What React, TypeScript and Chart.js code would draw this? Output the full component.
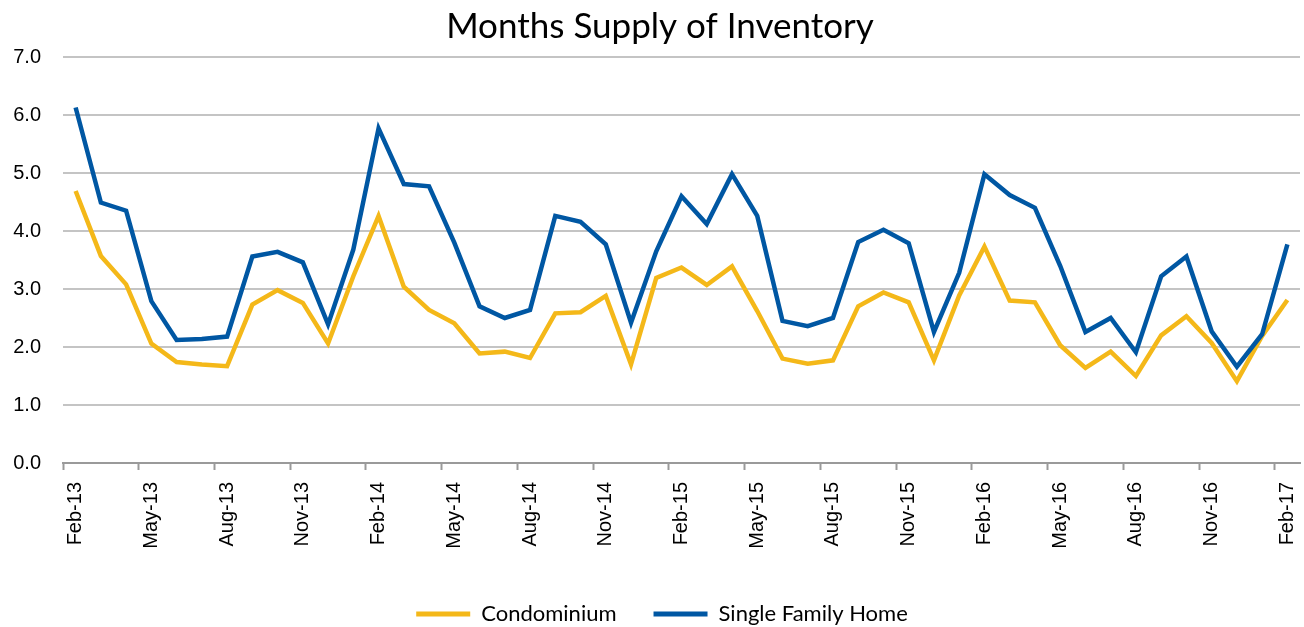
import React, { useEffect, useRef } from 'react';
import { Chart, registerables } from 'chart.js';

Chart.register(...registerables);

const months = [
  'Feb-13', 'Mar-13', 'Apr-13', 'May-13', 'Jun-13', 'Jul-13', 'Aug-13', 'Sep-13', 'Oct-13', 'Nov-13', 'Dec-13', 'Jan-14',
  'Feb-14', 'Mar-14', 'Apr-14', 'May-14', 'Jun-14', 'Jul-14', 'Aug-14', 'Sep-14', 'Oct-14', 'Nov-14', 'Dec-14', 'Jan-15',
  'Feb-15', 'Mar-15', 'Apr-15', 'May-15', 'Jun-15', 'Jul-15', 'Aug-15', 'Sep-15', 'Oct-15', 'Nov-15', 'Dec-15', 'Jan-16',
  'Feb-16', 'Mar-16', 'Apr-16', 'May-16', 'Jun-16', 'Jul-16', 'Aug-16', 'Sep-16', 'Oct-16', 'Nov-16', 'Dec-16', 'Jan-17',
  'Feb-17',
];

const condominium = [
  4.69, 3.57, 3.08, 2.06, 1.74, 1.70, 1.67, 2.73, 2.98, 2.76, 2.06, 3.22,
  4.26, 3.04, 2.64, 2.41, 1.89, 1.92, 1.81, 2.58, 2.60, 2.88, 1.70, 3.19,
  3.37, 3.07, 3.39, 2.62, 1.80, 1.71, 1.77, 2.70, 2.94, 2.77, 1.77, 2.89,
  3.73, 2.80, 2.77, 2.03, 1.64, 1.92, 1.50, 2.20, 2.53, 2.07, 1.41, 2.19,
  2.81,
];

const singleFamilyHome = [
  6.13, 4.49, 4.35, 2.79, 2.12, 2.14, 2.18, 3.56, 3.64, 3.46, 2.39, 3.68,
  5.77, 4.81, 4.77, 3.80, 2.70, 2.50, 2.64, 4.26, 4.16, 3.77, 2.42, 3.65,
  4.60, 4.12, 4.98, 4.26, 2.45, 2.36, 2.50, 3.81, 4.02, 3.79, 2.26, 3.28,
  4.98, 4.62, 4.40, 3.40, 2.26, 2.50, 1.91, 3.22, 3.56, 2.27, 1.66, 2.22,
  3.77,
];

const seriesNames = ['Condominium', 'Single Family Home'];
const seriesColors = ['#F4B819', '#0057A3'];
const chartTitle = 'Months Supply of Inventory';
const yMin = 0;
const yMax = 7;
const yStep = 1;
const labelEvery = 3;

const shiftBlocks = {
  id: 'shiftBlocks',
  afterLayout(chart: any) {
    const t = chart.titleBlock;
    if (t) {
      t.left += 10;
      t.right += 10;
    }
    const l = chart.legend;
    if (l) {
      l.left += 12;
      l.right += 12;
    }
  },
};

export default function App() {
  const ref = useRef<HTMLCanvasElement>(null);

  useEffect(() => {
    document.body.style.margin = '0';
    const canvas = ref.current;
    if (!canvas) return;
    const chart = new Chart(canvas, {
      type: 'line',
      data: {
        labels: months,
        datasets: [
          {
            label: seriesNames[0],
            data: condominium,
            borderColor: seriesColors[0],
            backgroundColor: seriesColors[0],
            borderWidth: 4.5,
            pointRadius: 0,
            tension: 0,
            order: 1,
          },
          {
            label: seriesNames[1],
            data: singleFamilyHome,
            borderColor: seriesColors[1],
            backgroundColor: seriesColors[1],
            borderWidth: 4.5,
            pointRadius: 0,
            tension: 0,
            order: 0,
          },
        ],
      },
      options: {
        responsive: false,
        animation: false,
        devicePixelRatio: 1,
        layout: { padding: { left: 0, right: 4, top: 0, bottom: 5 } },
        plugins: {
          title: {
            display: true,
            text: chartTitle,
            color: '#000',
            font: { family: 'Lato', size: 35, weight: 'normal' },
            padding: { top: 6, bottom: 9 },
          },
          legend: {
            position: 'bottom',
            labels: {
              boxWidth: 54,
              boxHeight: 5,
              color: '#000',
              padding: 37,
              font: { family: 'Lato', size: 22 },
              generateLabels: (ch: any) =>
                Chart.defaults.plugins.legend.labels
                  .generateLabels(ch)
                  .map((l: any) => ({ ...l, lineWidth: 0, strokeStyle: 'rgba(0,0,0,0)' }))
                  .sort((a: any, b: any) => a.datasetIndex - b.datasetIndex),
            },
          },
          tooltip: { enabled: false },
        },
        scales: {
          x: {
            type: 'category',
            offset: true,
            grid: {
              offset: true,
              drawOnChartArea: false,
              drawTicks: true,
              tickLength: 7,
              tickWidth: 2,
              tickColor: (c: any) =>
                typeof c.index === 'number' && c.index % labelEvery === 0 ? '#9a9a9a' : 'rgba(0,0,0,0)',
            },
            border: { display: true, color: '#9a9a9a', width: 2 },
            ticks: {
              autoSkip: false,
              minRotation: 90,
              maxRotation: 90,
              padding: 12,
              color: '#000',
              font: { family: 'Liberation Sans', size: 20 },
              callback: (_v: any, i: number) => (i % labelEvery === 0 ? months[i] : ''),
            },
            afterFit: (s: any) => {
              s.height = 103;
              s.paddingLeft = 0;
              s.paddingRight = 0;
            },
          },
          y: {
            min: yMin,
            max: yMax,
            ticks: {
              stepSize: yStep,
              padding: 22,
              color: '#000',
              font: { family: 'Liberation Sans', size: 20 },
              callback: (v: any) => Number(v).toFixed(1),
            },
            grid: {
              color: (c: any) => (c.tick && c.tick.value === 0 ? 'rgba(0,0,0,0)' : '#c4c4c4'),
              lineWidth: 2,
              drawTicks: false,
            },
            border: { display: false },
            afterFit: (s: any) => {
              s.width = 63;
            },
          },
        },
      },
      plugins: [shiftBlocks],
    } as any);
    return () => chart.destroy();
  }, []);

  return (
    <div style={{ width: 1304, height: 627, overflow: 'hidden', background: '#fff' }}>
      <canvas ref={ref} width={1304} height={640} style={{ display: 'block', width: 1304, height: 640 }} />
    </div>
  );
}
